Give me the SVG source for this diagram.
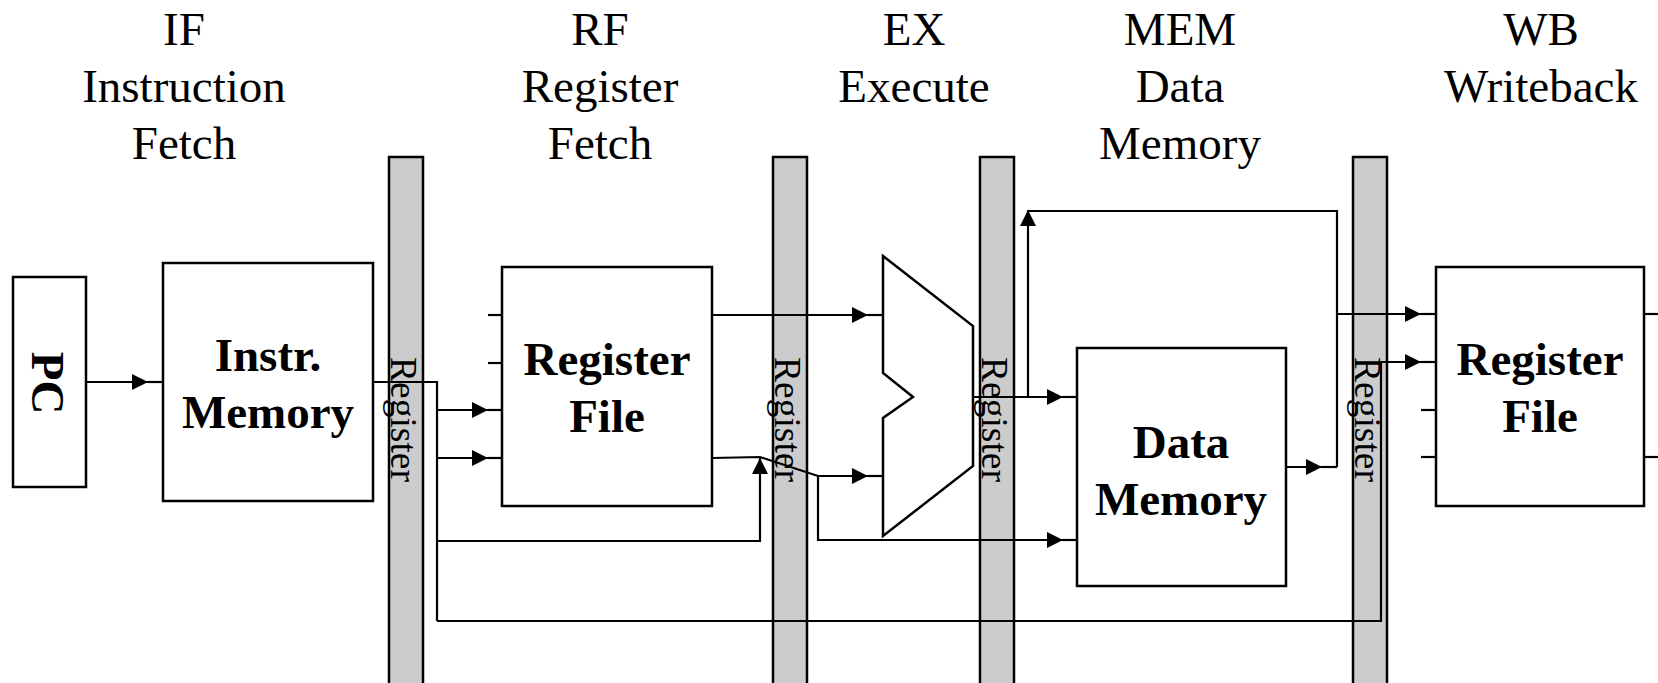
<svg xmlns="http://www.w3.org/2000/svg" width="1658" height="683" viewBox="0 0 1658 683">
  <style>
    .box { fill: #ffffff; stroke: #000000; stroke-width: 2.5; }
    .bar { fill: #cccccc; stroke: #000000; stroke-width: 2.5; }
    .wire { fill: none; stroke: #000000; stroke-width: 2.2; stroke-linejoin: miter; }
    .stage { font-family: "Liberation Serif", "Times New Roman", serif; font-size: 47px; text-anchor: middle; fill: #000000; }
    .label { font-family: "Liberation Serif", "Times New Roman", serif; font-size: 47px; font-weight: bold; text-anchor: middle; fill: #000000; }
    .reg { font-family: "Liberation Serif", "Times New Roman", serif; font-size: 37.5px; fill: #000000; }
  </style>
  <defs>
    <marker id="arrow" viewBox="0 0 16 16" refX="16" refY="8" markerWidth="16" markerHeight="16" markerUnits="userSpaceOnUse" orient="auto">
      <path d="M0,0 L16,8 L0,16 Z" fill="#000000"/>
    </marker>
  </defs>

  <rect width="1658" height="683" fill="#ffffff"/>

  <!-- Stage headings -->
  <g id="stage-headings">
    <text class="stage" x="184" y="45">IF</text>
    <text class="stage" x="184" y="102">Instruction</text>
    <text class="stage" x="184" y="159">Fetch</text>
    <text class="stage" x="600" y="45">RF</text>
    <text class="stage" x="600" y="102">Register</text>
    <text class="stage" x="600" y="159">Fetch</text>
    <text class="stage" x="914" y="45">EX</text>
    <text class="stage" x="914" y="102">Execute</text>
    <text class="stage" x="1180" y="45">MEM</text>
    <text class="stage" x="1180" y="102">Data</text>
    <text class="stage" x="1180" y="159">Memory</text>
    <text class="stage" x="1541" y="45">WB</text>
    <text class="stage" x="1541" y="102">Writeback</text>
  </g>

  <!-- Pipeline registers -->
  <g id="pipe-reg-1">
    <rect class="bar" x="389" y="157" width="34" height="530"/>
    <text class="reg" transform="translate(390.5,357) rotate(90)">Register</text>
  </g>
  <g id="pipe-reg-2">
    <rect class="bar" x="773" y="157" width="34" height="530"/>
    <text class="reg" transform="translate(775,357) rotate(90)">Register</text>
  </g>
  <g id="pipe-reg-3">
    <rect class="bar" x="980" y="157" width="34" height="530"/>
    <text class="reg" transform="translate(981.5,357) rotate(90)">Register</text>
  </g>
  <g id="pipe-reg-4">
    <rect class="bar" x="1353" y="157" width="34" height="530"/>
    <text class="reg" transform="translate(1355,357) rotate(90)">Register</text>
  </g>

  <!-- Program counter -->
  <g id="pc">
    <rect class="box" x="13" y="277" width="73" height="210"/>
    <text class="label" transform="translate(32,383) rotate(90)" dy="0">PC</text>
  </g>

  <!-- Instruction memory -->
  <g id="instr-memory">
    <rect class="box" x="163" y="263" width="210" height="238"/>
    <line class="wire" x1="148" y1="382" x2="163" y2="382"/>
    <text class="label" x="268" y="371">Instr.</text>
    <text class="label" x="268" y="428">Memory</text>
  </g>

  <!-- Register file (read) -->
  <g id="register-file-read">
    <rect class="box" x="502" y="267" width="210" height="239"/>
    <line class="wire" x1="488" y1="315" x2="502" y2="315"/>
    <line class="wire" x1="488" y1="363" x2="502" y2="363"/>
    <line class="wire" x1="488" y1="410" x2="502" y2="410"/>
    <line class="wire" x1="488" y1="458" x2="502" y2="458"/>
    <text class="label" x="607" y="375">Register</text>
    <text class="label" x="607" y="432">File</text>
  </g>

  <!-- ALU -->
  <g id="alu">
    <path class="box" d="M883,256 L973,326 L973,466 L883,536 L883,418 L913,397 L883,373 Z"/>
    <line class="wire" x1="868" y1="315" x2="883" y2="315"/>
    <line class="wire" x1="868" y1="476" x2="883" y2="476"/>
  </g>

  <!-- Data memory -->
  <g id="data-memory">
    <rect class="box" x="1077" y="348" width="209" height="238"/>
    <line class="wire" x1="1063" y1="397" x2="1077" y2="397"/>
    <line class="wire" x1="1063" y1="540" x2="1077" y2="540"/>
    <text class="label" x="1181" y="458">Data</text>
    <text class="label" x="1181" y="515">Memory</text>
  </g>

  <!-- Register file (write) -->
  <g id="register-file-write">
    <rect class="box" x="1436" y="267" width="208" height="239"/>
    <line class="wire" x1="1421" y1="314" x2="1436" y2="314"/>
    <line class="wire" x1="1421" y1="362" x2="1436" y2="362"/>
    <line class="wire" x1="1421" y1="410" x2="1436" y2="410"/>
    <line class="wire" x1="1421" y1="457" x2="1436" y2="457"/>
    <line class="wire" x1="1644" y1="314" x2="1658" y2="314"/>
    <line class="wire" x1="1644" y1="457" x2="1658" y2="457"/>
    <text class="label" x="1540" y="375">Register</text>
    <text class="label" x="1540" y="432">File</text>
  </g>

  <!-- Connectors -->
  <g id="connectors">
    <!-- PC to instruction memory -->
    <path class="wire" d="M86,382 L148,382" marker-end="url(#arrow)"/>
    <!-- instruction word fan-out -->
    <path class="wire" d="M373,382 L437,382 L437,621"/>
    <path class="wire" d="M437,410 L488,410" marker-end="url(#arrow)"/>
    <path class="wire" d="M437,458 L488,458" marker-end="url(#arrow)"/>
    <path class="wire" d="M437,541 L760,541 L760,458" marker-end="url(#arrow)"/>
    <path class="wire" d="M437,621 L1381,621 L1381,362 L1421,362" marker-end="url(#arrow)"/>
    <!-- register file outputs to ALU -->
    <path class="wire" d="M712,315 L868,315" marker-end="url(#arrow)"/>
    <path class="wire" d="M712,458 L760,457 L818,476 L868,476" marker-end="url(#arrow)"/>
    <path class="wire" d="M818,476 L818,540 L1063,540" marker-end="url(#arrow)"/>
    <!-- ALU result -->
    <path class="wire" d="M973,397 L1063,397" marker-end="url(#arrow)"/>
    <path class="wire" d="M1028,397 L1028,210" marker-end="url(#arrow)"/>
    <!-- writeback path -->
    <path class="wire" d="M1028,211 L1337,211 L1337,467"/>
    <path class="wire" d="M1286,467 L1322,467" marker-end="url(#arrow)"/>
    <line class="wire" x1="1322" y1="467" x2="1337" y2="467"/>
    <path class="wire" d="M1337,314 L1421,314" marker-end="url(#arrow)"/>
  </g>
</svg>
